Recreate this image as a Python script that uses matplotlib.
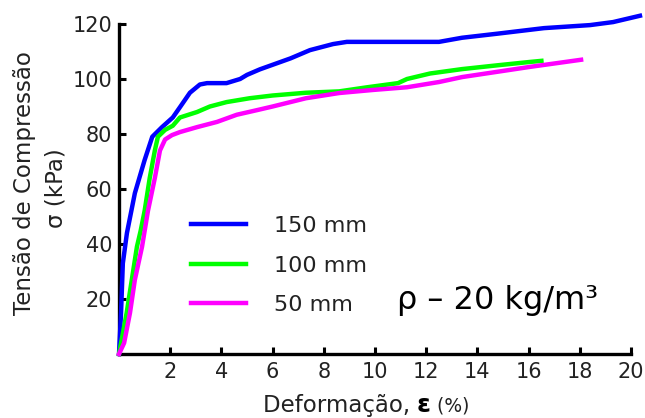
import matplotlib
matplotlib.use("Agg")
import matplotlib.pyplot as plt
from matplotlib.offsetbox import TextArea, HPacker, AnchoredOffsetbox

# Data
blue_x = [0, 0.08, 0.15, 0.31, 0.62, 1.0, 1.3, 1.68, 2.1, 2.4, 2.77, 3.16, 3.44, 4.2,
          4.73, 5.0, 5.5, 6.7, 7.46, 8.36, 8.9, 12.5, 13.4, 14.8, 16.6, 18.4, 19.3, 20.35]
blue_y = [0, 15, 33, 44, 58.5, 70.5, 79, 82.5, 86, 90, 95, 98, 98.5, 98.5,
          100, 101.5, 103.5, 107.5, 110.5, 112.7, 113.5, 113.5, 115, 116.5, 118.5, 119.6, 120.7, 123]

green_x = [0, 0.3, 0.5, 0.7, 0.85, 1.0, 1.2, 1.4, 1.52, 1.8, 2.1, 2.38, 3.05, 3.55, 4.2,
           5.1, 6.0, 7.3, 8.6, 9.7, 10.9, 11.25, 12.15, 13.4, 14.8, 16.05, 16.5]
green_y = [0, 15, 27, 39, 45, 52, 64, 74, 79, 81.5, 83, 86, 88, 90, 91.6,
           93, 94, 95, 95.5, 97, 98.5, 100, 102, 103.6, 105, 106.2, 106.6]

magenta_x = [0, 0.2, 0.43, 0.62, 0.9, 1.13, 1.4, 1.6, 1.8, 2.07, 2.38, 3.05, 3.83, 4.6,
             5.4, 6.0, 7.3, 8.6, 9.9, 11.25, 12.5, 13.4, 16.05, 18.05]
magenta_y = [0, 4, 15, 27, 39, 52, 64, 74, 78, 79.6, 80.7, 82.5, 84.4, 87,
             88.7, 90, 93, 94.9, 96, 97, 98.9, 100.7, 104.4, 107]

series_labels = ["150 mm", "100 mm", "50 mm"]
x_ticks = [2, 4, 6, 8, 10, 12, 14, 16, 18, 20]
y_ticks = [20, 40, 60, 80, 100, 120]

W, H = 645, 418
fig = plt.figure(figsize=(W / 100, H / 100), dpi=100)
ax = fig.add_axes([119 / W, 1 - 354 / H, (631 - 119) / W, (354 - 24) / H])

lw = 3.2
ax.plot(blue_x, blue_y, color="#0000ff", lw=lw, label=series_labels[0], clip_on=False, zorder=4)
ax.plot(green_x, green_y, color="#00ff00", lw=lw, label=series_labels[1], clip_on=False, zorder=4)
ax.plot(magenta_x, magenta_y, color="#ff00ff", lw=lw, label=series_labels[2], clip_on=False, zorder=4)

ax.set_xlim(0, 20)
ax.set_ylim(0, 120)
for s in ["top", "right"]:
    ax.spines[s].set_visible(False)
for s in ["left", "bottom"]:
    ax.spines[s].set_linewidth(2.4)
    ax.spines[s].set_color("black")

ax.set_xticks(x_ticks)
ax.set_yticks(y_ticks)
ax.tick_params(direction="in", length=5, width=2.2, labelsize=15,
               labelcolor="#222222", color="black")
ax.tick_params(axis="y", pad=5)
ax.tick_params(axis="x", pad=6)

leg = ax.legend(loc="upper left", bbox_to_anchor=(180 / W, 1 - 205 / H),
                bbox_transform=fig.transFigure, frameon=False,
                fontsize=16, handlelength=2.45, handletextpad=1.3,
                labelspacing=0.88, borderpad=0)
for t in leg.get_texts():
    t.set_color("#222222")

fig.text(397 / W, 1 - 300 / H, "ρ – 20 kg/m³", fontsize=23, color="black",
         ha="left", va="center")

fig.text(25 / W, 1 - 183 / H, "Tensão de Compressão", fontsize=16.5, color="#222222",
         rotation=90, ha="center", va="center")
fig.text(56 / W, 1 - 188 / H, "σ (kPa)", fontsize=16.5, color="#222222",
         rotation=90, ha="center", va="center")

# x label with mixed sizes
parts = HPacker(children=[
    TextArea("Deformação, ", textprops=dict(fontsize=16.5, color="#222222")),
    TextArea("ε", textprops=dict(fontsize=18, color="black", fontweight="bold")),
    TextArea(" (%)", textprops=dict(fontsize=13.5, color="#222222")),
], align="baseline", pad=0, sep=0)
anch = AnchoredOffsetbox(loc="center", child=parts, pad=0, frameon=False,
                         bbox_to_anchor=(366 / W, 1 - 405 / H),
                         bbox_transform=fig.transFigure, borderpad=0)
fig.add_artist(anch)

fig.savefig("out.png", dpi=100)
